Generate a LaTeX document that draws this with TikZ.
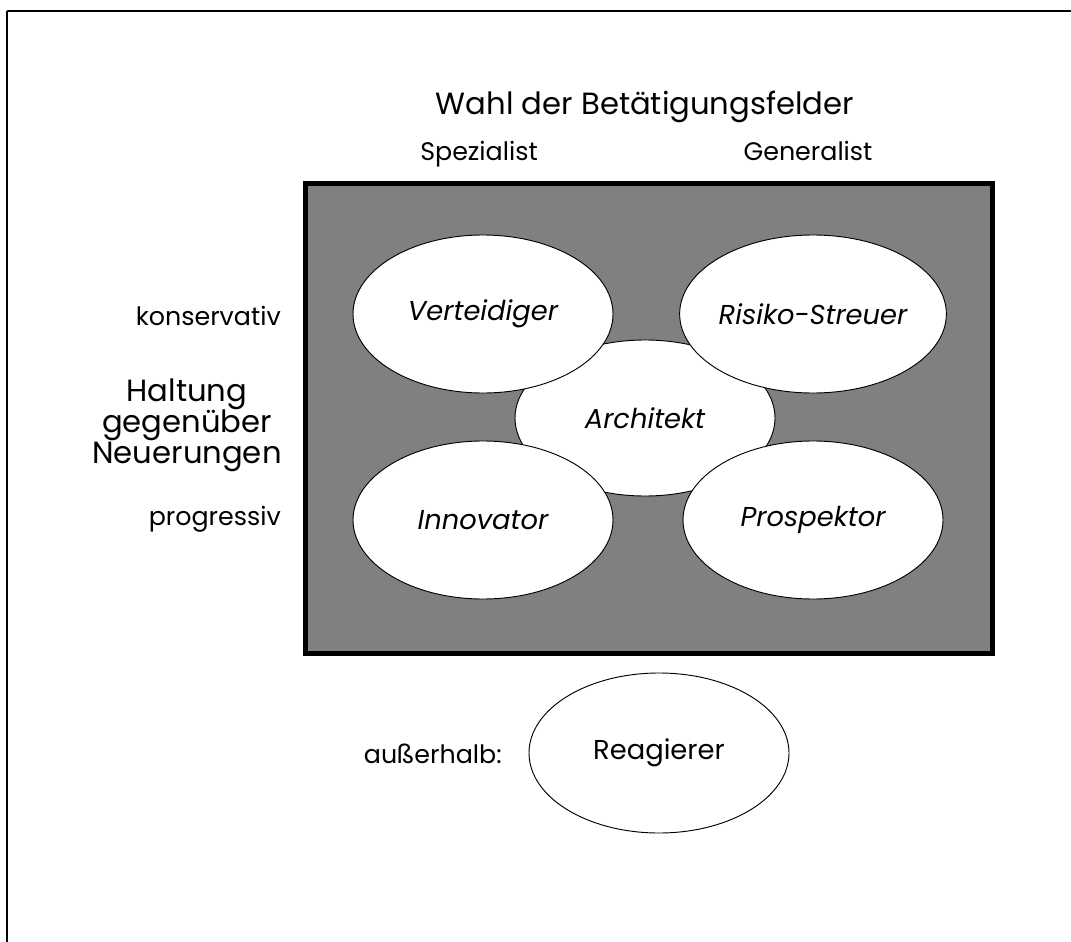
\documentclass[tikz,border=0pt]{standalone}
\usepackage{fontspec}
\setmainfont{Poppins}
\usetikzlibrary{shapes.geometric}
\begin{document}
\begin{tikzpicture}[x=0.75pt,y=-0.75pt,
  oval/.style={ellipse,draw=black,line width=0.7pt,fill=white,inner sep=0pt,
    minimum width=195pt,minimum height=118.5pt,font=\fontsize{20.5}{24}\selectfont\itshape},
  axislabel/.style={font=\fontsize{19}{22}\selectfont,inner sep=0pt},
  bigtitle/.style={font=\fontsize{23}{23.25}\selectfont,inner sep=0pt}]
\useasboundingbox (0,0) rectangle (1071,942);
% page frame (top and left edge)
\draw[line width=2pt] (7,11) -- (1071,11);
\draw[line width=2pt] (7,11) -- (7,942);
% field of strategies
\draw[line width=3.75pt,fill=black!50] (305.5,183.5) rectangle (992.5,653.5);
% headings
\node[bigtitle,anchor=base] (title) at (645,114) {Wahl der Betätigungsfelder};
\node[axislabel,anchor=base] (spez) at (479,161) {Spezialist};
\node[axislabel,anchor=base] (gen) at (808,161) {Generalist};
\node[axislabel,anchor=base east] (kons) at (281,325) {konservativ};
\node[axislabel,anchor=base east] (prog) at (281,525) {progressiv};
\node[bigtitle,align=center,anchor=center] (haltung) at (187,425) {Haltung\\gegenüber\\Neuerungen};
% strategy types
\node[oval,minimum height=117pt] (arch) at (645,418) {Architekt};
\node[oval] (vert) at (483,314) {Verteidiger};
\node[oval] (risk) at (813,314) {Risiko-Streuer};
\node[oval] (inno) at (483,520) {Innovator};
\node[oval] (prosp) at (813,520) {Prospektor};
% outside the field
\node[oval,minimum height=120pt,font=\fontsize{20.5}{24}\selectfont] (reag) at (659,753) {Reagierer};
\node[axislabel,anchor=base east] (aus) at (502,763) {außerhalb:};
\end{tikzpicture}
\end{document}
